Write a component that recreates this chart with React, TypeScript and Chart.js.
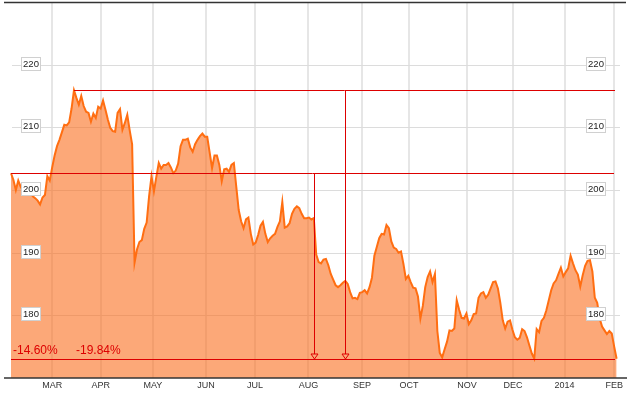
import React, { useEffect, useRef } from "react";
import { Chart, registerables } from "chart.js";

Chart.register(...registerables);

// Daily closing prices, Feb 2013 – Feb 2014 (one value per trading day)
const prices: number[] = [
  202.67, 201.6, 200.0, 201.5, 200.5, 199.9, 200.2, 199.5, 199.8, 199.0,
  198.7, 198.3, 197.7, 198.8, 199.2, 202.2, 201.5, 203.6, 205.5, 207.0,
  208.0, 209.2, 210.4, 210.3, 210.8, 213.0, 215.9, 214.7, 213.6, 215.0,
  213.4, 212.5, 212.3, 210.9, 212.2, 211.5, 213.3, 213.0, 214.3, 212.8,
  211.2, 209.9, 209.4, 209.3, 212.3, 212.9, 209.6, 210.7, 212.0, 209.5,
  207.3, 188.4, 190.5, 191.7, 192.0, 193.8, 194.8, 199.0, 202.2, 199.8,
  202.1, 204.3, 203.4, 204.0, 204.0, 204.3, 203.6, 202.7, 203.1, 204.2,
  207.0, 208.0, 208.0, 208.2, 206.8, 206.1, 207.3, 208.0, 208.6, 209.0,
  208.5, 208.5, 206.0, 203.5, 205.5, 205.5, 204.0, 201.4, 203.3, 203.4,
  202.9, 204.0, 204.3, 200.5, 196.8, 195.0, 193.9, 195.3, 195.6, 193.0,
  191.3, 191.6, 192.8, 194.3, 194.9, 193.0, 191.7, 192.3, 192.7, 193.0,
  194.1, 195.0, 198.1, 194.0, 194.2, 194.7, 196.2, 197.0, 197.4, 197.1,
  196.2, 195.5, 195.5, 195.6, 195.3, 195.5, 189.7, 188.5, 188.3, 188.9,
  189.0, 188.0, 186.6, 185.7, 184.8, 184.5, 184.8, 185.2, 185.5, 185.0,
  183.7, 182.7, 182.8, 182.6, 183.6, 183.7, 184.0, 183.5, 184.5, 186.0,
  189.5, 190.9, 192.3, 193.0, 192.9, 194.4, 193.9, 191.8, 190.8, 190.6,
  190.0, 190.2, 188.2, 185.8, 186.3, 185.3, 184.4, 184.3, 183.0, 179.5,
  181.5, 184.5, 186.1, 187.0, 185.3, 186.6, 177.5, 174.0, 173.3, 174.6,
  175.8, 177.6, 177.5, 177.9, 182.4, 180.9, 179.6, 179.5, 180.3, 178.6,
  179.2, 180.2, 180.3, 182.8, 183.5, 183.7, 182.8, 183.3, 184.3, 185.3,
  185.4, 184.3, 182.0, 179.2, 177.9, 179.0, 179.2, 177.7, 176.5, 176.1,
  176.4, 177.8, 177.5, 176.5, 175.2, 173.9, 173.1, 177.8, 177.3, 179.1,
  179.6, 180.8, 182.4, 184.0, 185.1, 185.6, 186.6, 187.6, 186.2, 186.9,
  187.5, 189.5, 188.3, 187.2, 186.5, 184.6, 186.4, 187.9, 188.7, 188.8,
  187.0, 182.8, 182.0, 179.5, 178.2, 177.6, 177.0, 177.5, 177.1, 175.0,
  173.07,
];

// Month tick labels and the trading-day positions where each month begins
const monthLabels: string[] = ["MAR", "APR", "MAY", "JUN", "JUL", "AUG", "SEP", "OCT", "NOV", "DEC", "2014", "FEB"];
const monthIndex: number[] = [17, 37, 58.6, 80.5, 100.7, 122.8, 144.9, 164.3, 188.2, 207.2, 228.5, 249];

// Y axis tick values
const yTicks: number[] = [180, 190, 200, 210, 220];

// Reference levels: start price, high, low
const startLevel = 202.67;
const highLevel = 215.9;
const lowLevel = 173.07;
const highIndex = 26;

// Drawdown marker positions (trading-day index) and labels
const markerIndex: number[] = [125, 138];
const markerFrom: number[] = [startLevel, highLevel];
const drawdownLabels: string[] = ["-14.60%", "-19.84%"];

const RED = "#dd0000";

const overlay = {
  id: "overlay",
  beforeDatasetsDraw(chart: any) {
    const { ctx, chartArea: a, scales } = chart;
    const x = scales.x;
    const y = scales.y;
    ctx.save();
    // vertical month grid lines
    ctx.strokeStyle = "#e6e6e6";
    ctx.lineWidth = 2;
    monthIndex.forEach((v) => {
      const px = Math.round(x.getPixelForValue(v));
      ctx.beginPath();
      ctx.moveTo(px, a.top);
      ctx.lineTo(px, a.bottom);
      ctx.stroke();
    });
    // horizontal grid lines
    ctx.strokeStyle = "#dcdcdc";
    ctx.lineWidth = 1;
    yTicks.forEach((v) => {
      const py = Math.round(y.getPixelForValue(v)) + 0.5;
      ctx.beginPath();
      ctx.moveTo(a.left + 8, py);
      ctx.lineTo(a.right - 7, py);
      ctx.stroke();
    });
    ctx.restore();
  },
  afterDatasetsDraw(chart: any) {
    const { ctx, chartArea: a, scales } = chart;
    const x = scales.x;
    const y = scales.y;
    const x0 = x.getPixelForValue(0);
    const xEnd = a.right - 12;
    ctx.save();

    // red reference lines
    ctx.strokeStyle = RED;
    ctx.lineWidth = 1;
    const hline = (x1: number, x2: number, v: number) => {
      const py = Math.round(y.getPixelForValue(v)) + 0.5;
      ctx.beginPath();
      ctx.moveTo(x1, py);
      ctx.lineTo(x2, py);
      ctx.stroke();
    };
    hline(x0, xEnd - 1, startLevel);
    hline(x.getPixelForValue(highIndex), xEnd, highLevel);
    hline(x0, xEnd, lowLevel);

    // vertical drawdown markers with arrow heads
    const yLow = Math.round(y.getPixelForValue(lowLevel));
    markerIndex.forEach((idx, k) => {
      const px = Math.round(x.getPixelForValue(idx)) + 0.5;
      const yTop = Math.round(y.getPixelForValue(markerFrom[k]));
      ctx.beginPath();
      ctx.moveTo(px, yTop);
      ctx.lineTo(px, yLow - 5);
      ctx.stroke();
      ctx.beginPath();
      ctx.moveTo(px - 3.5, yLow - 5);
      ctx.lineTo(px + 3.5, yLow - 5);
      ctx.lineTo(px, yLow);
      ctx.closePath();
      ctx.stroke();
    });

    // drawdown labels
    ctx.fillStyle = RED;
    ctx.font = '12px "Liberation Sans", Arial, sans-serif';
    ctx.textAlign = "left";
    ctx.textBaseline = "alphabetic";
    ctx.fillText(drawdownLabels[0], a.left + 9, yLow - 5);
    ctx.fillText(drawdownLabels[1], a.left + 72, yLow - 5);

    // y tick label boxes (both sides)
    ctx.font = '9.5px "Liberation Sans", Arial, sans-serif';
    ctx.textAlign = "center";
    ctx.textBaseline = "middle";
    yTicks.forEach((v) => {
      const py = Math.round(y.getPixelForValue(v)) - 1;
      [a.left + 27, a.right - 31].forEach((cx) => {
        ctx.fillStyle = "#ffffff";
        ctx.fillRect(cx - 10, py - 7, 20, 14);
        ctx.strokeStyle = "#d0d0d0";
        ctx.lineWidth = 1;
        ctx.strokeRect(cx - 10 + 0.5, py - 7 + 0.5, 19, 13);
        ctx.fillStyle = "#222";
        ctx.fillText(String(v), cx, py + 0.5);
      });
    });

    // top and bottom frame lines
    ctx.strokeStyle = "#333";
    ctx.lineWidth = 1.5;
    ctx.beginPath();
    ctx.moveTo(a.left, a.top + 0.5);
    ctx.lineTo(a.right - 1, a.top + 0.5);
    ctx.stroke();
    ctx.beginPath();
    ctx.moveTo(a.left, a.bottom);
    ctx.lineTo(a.right, a.bottom);
    ctx.stroke();

    // month labels
    ctx.fillStyle = "#333";
    ctx.font = '9px "Liberation Sans", Arial, sans-serif';
    ctx.textAlign = "center";
    ctx.textBaseline = "middle";
    monthIndex.forEach((v, i) => {
      const px = x.getPixelForValue(v);
      ctx.fillText(monthLabels[i], px, a.bottom + 8);
    });

    ctx.restore();
  },
};

export default function App() {
  const canvasRef = useRef<HTMLCanvasElement | null>(null);

  useEffect(() => {
    const canvas = canvasRef.current;
    if (!canvas) return;
    const chart = new Chart(canvas, {
      type: "line",
      data: {
        datasets: [
          {
            data: prices.map((v, i) => ({ x: i, y: v })),
            borderColor: "#ff6e12",
            borderWidth: 2,
            backgroundColor: "rgba(250,110,30,0.6)",
            fill: "start",
            pointRadius: 0,
            tension: 0,
          },
        ],
      },
      options: {
        animation: false,
        responsive: false,
        devicePixelRatio: 1,
        layout: { padding: { left: 4, right: 4, top: 2, bottom: 18 } },
        plugins: { legend: { display: false }, tooltip: { enabled: false } },
        scales: {
          x: { type: "linear", display: false, min: -2.89, max: 254.29 },
          y: { type: "linear", display: false, min: 170, max: 230 },
        },
      },
      plugins: [overlay],
    });
    return () => chart.destroy();
  }, []);

  return (
    <div style={{ position: "absolute", left: 0, top: 0, width: 631, height: 396, background: "#fff" }}>
      <canvas ref={canvasRef} width={631} height={396} style={{ display: "block" }} />
    </div>
  );
}
